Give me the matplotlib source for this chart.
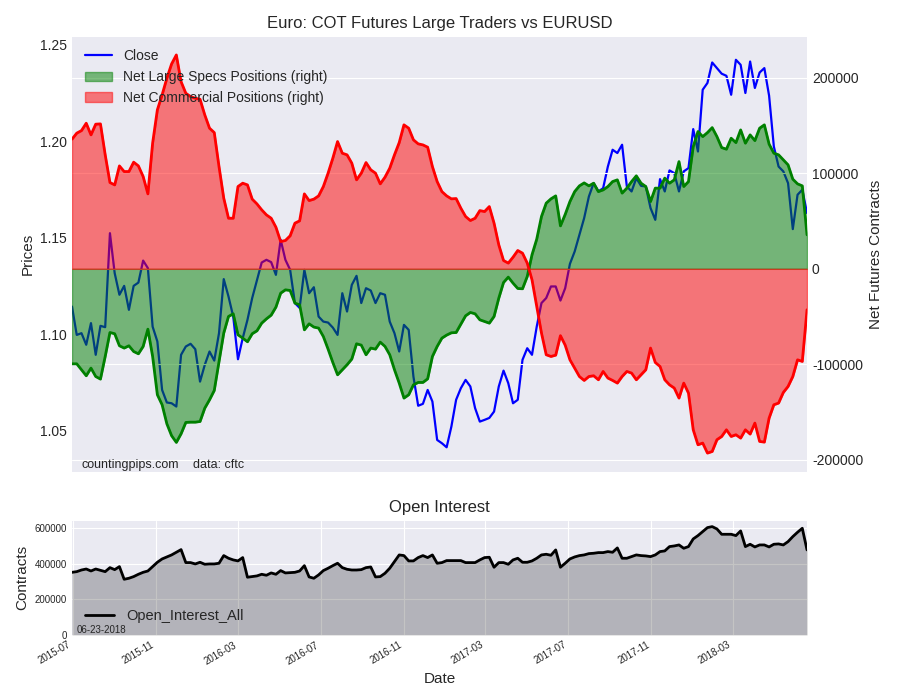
import numpy as np
import pandas as pd
import matplotlib
matplotlib.use('Agg')
import matplotlib.pyplot as plt
import matplotlib.dates as mdates
from matplotlib.ticker import FormatStrFormatter

# weekly COT report dates
dates = pd.date_range('2015-06-30', periods=156, freq='7D')

# EURUSD close
close = [1.1144, 1.0997, 1.1006, 1.0946, 1.1058, 1.0894, 1.1044, 1.1037, 1.1524, 1.1317,
         1.1205, 1.1251, 1.1127, 1.1251, 1.1268, 1.1382, 1.1343, 1.1040, 1.0963, 1.0712,
         1.0647, 1.0643, 1.0626, 1.0894, 1.0937, 1.0951, 1.0923, 1.0755, 1.0842, 1.0911,
         1.0864, 1.1006, 1.1286, 1.1196, 1.1092, 1.0871, 1.0980, 1.1075, 1.1188, 1.1279,
         1.1372, 1.1386, 1.1374, 1.1308, 1.1490, 1.1386, 1.1334, 1.1162, 1.1137, 1.1334,
         1.1213, 1.1244, 1.1092, 1.1066, 1.1061, 1.1035, 1.0997, 1.1213, 1.1118, 1.1256,
         1.1303, 1.1162, 1.1239, 1.1227, 1.1162, 1.1213, 1.1205, 1.1066, 1.1006, 1.0911,
         1.1049, 1.1023, 1.0781, 1.0630, 1.0640, 1.0712, 1.0652, 1.0453, 1.0436, 1.0415,
         1.0522, 1.0661, 1.0721, 1.0764, 1.0730, 1.0618, 1.0548, 1.0557, 1.0567, 1.0600,
         1.0730, 1.0812, 1.0747, 1.0643, 1.0661, 1.0868, 1.0928, 1.0894, 1.1040, 1.1162,
         1.1188, 1.1248, 1.1248, 1.1175, 1.1239, 1.1365, 1.1429, 1.1516, 1.1602, 1.1714,
         1.1783, 1.1740, 1.1757, 1.1869, 1.1956, 1.1939, 1.1982,
         1.1766, 1.1740, 1.1809, 1.1769, 1.1766, 1.1654, 1.1593, 1.1804, 1.1740, 1.1849,
         1.1835, 1.1740, 1.1844, 1.1861, 1.2063, 1.1947, 1.2267, 1.2302, 1.2408, 1.2379,
         1.2350, 1.2339, 1.2241, 1.2422, 1.2396, 1.2250, 1.2413, 1.2276, 1.2356, 1.2379,
         1.2236, 1.1973, 1.1869, 1.1844, 1.1783, 1.1545, 1.1723, 1.1749, 1.1628]

# net large speculator positions (thousands of contracts)
specs_k = [-99.5, -99.5, -105.7, -112, -104, -112.8, -115.5, -91.8, -66.7, -68,
           -80.6, -83, -80.6, -86.6, -89, -81.3, -63.2, -91.8, -131.9, -142.4,
           -162.3, -174.8, -181.8, -172.8, -160.9, -160.6, -160.6, -159.9, -145.9, -137.2,
           -127.4, -97, -67.3, -49.9, -47.1, -69.1, -72.6, -76.4, -68, -64.9,
           -56.9, -52.4, -48.5, -40.1, -25.5, -22, -22.7, -35.9, -37.7, -63.9,
           -57.6, -61, -62.1, -70.9, -84.1, -98.1, -111, -105.7, -100.5, -94.5,
           -78.5, -79.9, -90, -83, -84.1, -76.8, -81.3, -90, -105.7, -119.7,
           -135.4, -131.9, -121.5, -119, -119, -115.2, -91.8, -81.3, -72.6, -69.4,
           -67, -66.7, -57.9, -49.2, -45.7, -47.1, -53.4, -55.2, -56.9, -49.9,
           -30.7, -14.3, -8.7, -15, -20.6, -20.9, -8, 14.7, 31.1, 54.8,
           68.8, 73.3, 76.4, 45, 57, 70.5, 80.9, 86.9, 90, 86.9,
           89.7, 80.9, 82.7, 86.2, 91.4, 93.2, 79.3,
           84.5, 91.4, 97.4, 89.7, 86.2, 70.5, 84.5, 84.5, 95, 89.7,
           93.2, 112.3, 86.2, 91.4, 128, 143.8, 138.5, 142.7, 147.9, 138.5,
           127, 125.3, 136.8, 132.2, 145.5, 131.6, 140.3, 134.3, 147.3, 150.8,
           130.6, 121.1, 119.4, 114.1, 108.9, 93.9, 89, 86.9, 35.6]

# net commercial positions (thousands of contracts)
comm_k = [135.8, 142.1, 144.8, 152.5, 140.3, 151.5, 151.8, 119.4, 90.4, 87.9,
          107.8, 101.9, 101.9, 111.7, 107.8, 96.7, 78.5, 131.6, 166.5, 182.2,
          199.6, 214.6, 224, 196, 183.9, 180.4, 178.7, 177.6, 161.2, 147.3,
          142.7, 107.1, 74, 53, 53, 86.2, 89.7, 87.9, 73, 68,
          61.8, 56.5, 53, 43.6, 28.6, 29.7, 34.6, 47.8, 50.3, 78.5,
          71.5, 73, 76.4, 86.2, 100.2, 115.9, 133.3, 121.1, 119.4, 110.7,
          93.2, 100.2, 111.3, 103.7, 100.2, 89, 96, 105.4, 119.4, 132.2,
          150.8, 147.3, 135.1, 130.9, 129.8, 127.4, 107.1, 91.4, 80.9, 76.4,
          73.3, 73.6, 63.5, 54.8, 50.6, 53, 61, 60, 65.2, 47.8,
          25.1, 8.7, 6, 12.2, 19.2, 16.4, 6, -11.5, -39.5, -67.3,
          -90, -91.8, -90.4, -70, -80, -95.3, -104, -112.8, -116.9, -112.8,
          -112, -116.2, -107.5, -114.4, -116.9, -119.7, -112.8,
          -107.5, -109.2, -116.2, -111, -105.7, -83, -98.1, -102.3, -116.2, -121.5,
          -124.9, -135.4, -119.7, -130.2, -168.6, -184.3, -182.5, -193, -191.3, -179,
          -175.6, -168.6, -175.6, -173.8, -177.3, -168.6, -173.1, -161.6, -180.8, -181.5,
          -156.4, -142.4, -140.6, -129.5, -123.2, -112.8, -95.3, -97, -42.9]

# open interest (thousands of contracts)
oi_k = [351, 354.8, 364, 369.6, 358.5, 369.6, 362, 354.8, 377.3, 366,
        383, 312, 317.7, 327, 340, 351, 358.5, 383, 407.4, 426,
        437.2, 448.5, 463.4, 478.4, 405.6, 405.6, 398, 407.4, 396.2, 398,
        398, 401.9, 444.9, 430, 420.6, 415, 433.7, 323.5, 327, 330.9,
        340, 334.6, 347.6, 340, 360.7, 347.6, 349.5, 351, 358.5, 388.4,
        325.1, 317.7, 336.4, 360.7, 373.8, 388.4, 401.9, 377.3, 368, 364,
        364, 366, 377.3, 381, 325.1, 327, 345.7, 373.8, 411.2, 448.5,
        444.9, 415, 415, 433.7, 444.9, 433.7, 448.5, 401.9, 405.6,
        416.8, 416.8, 416.8, 416.8, 405.6, 405.6, 405.6, 420.5, 433.6, 435.5,
        379.4, 405.6, 405.6, 396.2, 420.5, 429.9, 407.4, 407.4, 414.9, 429.9,
        448.6, 452.3, 446.7, 476.6, 379.4, 401.8, 426.1, 437.3, 444.8, 448.6,
        456, 457.9, 461.6, 461.6, 467.3, 463.5, 487.8, 429.9, 429.9, 439.2,
        448.6, 444.8, 443, 439.2, 448.6, 467.3, 471, 495.3, 499, 504.6,
        485.9, 495.3, 538.3, 557, 579.4, 601.8, 607.4, 594.3, 564.4, 564.4,
        564.4, 557, 583.1, 495.3, 508.4, 493.4, 504.6, 504.6, 493.4, 508.4,
        510.2, 504.6, 523.3, 551.3, 575.7, 598.1, 476.6]

specs = np.array(specs_k) * 1000
comm = np.array(comm_k) * 1000
oi = np.array(oi_k) * 1000

plt.style.use('seaborn-v0_8-darkgrid')
plt.rcParams['font.family'] = ['Liberation Sans', 'DejaVu Sans']

fig = plt.figure(figsize=(9, 7), dpi=100)
ax1 = fig.add_axes([0.08, 0.326, 0.8167, 0.6214])
ax3 = fig.add_axes([0.08, 0.093, 0.8167, 0.163])

# --- top panel: price and net positions ---
ax1.plot(dates, close, color='blue', linewidth=1.6, label='Close')
ax1.grid(False)
ax1.set_ylim(1.0288, 1.2541)
ax1.set_yticks([1.05, 1.10, 1.15, 1.20, 1.25])
ax1.yaxis.set_major_formatter(FormatStrFormatter('%.2f'))
ax1.set_ylabel('Prices', fontsize=11)
ax1.tick_params(axis='y', labelsize=10)
ax1.set_xticklabels([])
ax1.set_xlim(dates[0], dates[-1])

ax2 = ax1.twinx()
f_specs = ax2.fill_between(dates, 0, specs, color='green', alpha=0.5, linewidth=1,
                           label='Net Large Specs Positions (right)')
ax2.plot(dates, specs, color='green', linewidth=2)
f_comm = ax2.fill_between(dates, 0, comm, color='red', alpha=0.5, linewidth=1,
                          label='Net Commercial Positions (right)')
ax2.plot(dates, comm, color='red', linewidth=2)
ax2.set_ylim(-212600, 243000)
ax2.set_yticks([-200000, -100000, 0, 100000, 200000])
ax2.yaxis.set_major_formatter(FormatStrFormatter('%d'))
ax2.tick_params(axis='y', labelsize=10)
ax2.grid(True, axis='y')
ax2.grid(False, axis='x')
ax2.set_ylabel('Net Futures Contracts', fontsize=11, labelpad=4)
ax2.set_xlim(dates[0], dates[-1])

h1, l1 = ax1.get_legend_handles_labels()
ax2.legend(h1 + [f_specs, f_comm], l1 + [f_specs.get_label(), f_comm.get_label()],
           loc='upper left', fontsize=10, frameon=False)
ax1.set_title('Euro: COT Futures Large Traders vs EURUSD', fontsize=12)

ax2.text(0.013, 0.008, 'countingpips.com', transform=ax2.transAxes, fontsize=9)
ax2.text(0.165, 0.008, 'data: cftc', transform=ax2.transAxes, fontsize=9)

# --- bottom panel: open interest ---
ax3.plot(dates, oi, color='black', linewidth=2, label='Open_Interest_All')
ax3.fill_between(dates, 0, oi, color='black', alpha=0.23, linewidth=0)
ax3.set_xlim(dates[0], dates[-1])
ax3.set_ylim(0, 640000)
ax3.set_yticks([0, 200000, 400000, 600000])
ax3.yaxis.set_major_formatter(FormatStrFormatter('%d'))
ax3.xaxis.set_major_locator(mdates.MonthLocator(bymonth=[3, 7, 11]))
ax3.xaxis.set_major_formatter(mdates.DateFormatter('%Y-%m'))
ax3.tick_params(axis='both', labelsize=7)
for lab in ax3.get_xticklabels():
    lab.set_rotation(30)
    lab.set_ha('right')
ax3.set_title('Open Interest', fontsize=12)
ax3.set_ylabel('Contracts', fontsize=11)
ax3.set_xlabel('Date', fontsize=11)
ax3.legend(loc='lower left', fontsize=10.5, frameon=False, bbox_to_anchor=(0, -0.01))
ax3.text(0.006, 0.02, '06-23-2018', transform=ax3.transAxes, fontsize=7)

fig.savefig('out.png', dpi=100)
